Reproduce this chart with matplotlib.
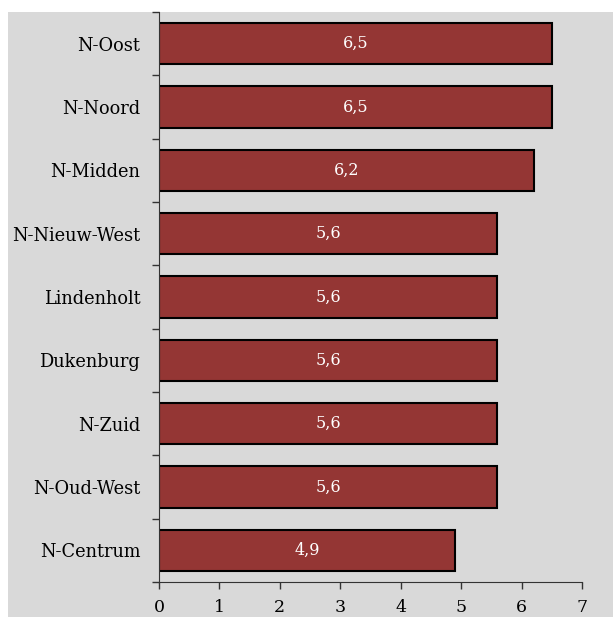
import matplotlib.pyplot as plt
from matplotlib.patches import Rectangle

wijken = ['N-Oost', 'N-Noord', 'N-Midden', 'N-Nieuw-West', 'Lindenholt',
          'Dukenburg', 'N-Zuid', 'N-Oud-West', 'N-Centrum']
cijfers = [6.5, 6.5, 6.2, 5.6, 5.6, 5.6, 5.6, 5.6, 4.9]
xticks = [0, 1, 2, 3, 4, 5, 6, 7]

bg = '#d9d9d9'
bar_color = '#943634'

plt.rcParams['font.family'] = ['DejaVu Serif']

fig = plt.figure(figsize=(6.13, 6.17), dpi=100)
fig.patch.set_facecolor('white')

# grey plot area, starts a bit in from top and left
fig.add_artist(Rectangle((8 / 613, 0), 1, 1 - 12 / 617, transform=fig.transFigure,
                         facecolor=bg, edgecolor='none', zorder=-1))

ax = fig.add_axes([159 / 613, 1 - 582 / 617, (582 - 159) / 613, (582 - 12) / 617])
ax.set_facecolor(bg)

pos = list(range(len(wijken)))[::-1]
bars = ax.barh(pos, cijfers, height=0.65, color=bar_color, edgecolor='black', linewidth=1.5)

for b, v in zip(bars, cijfers):
    ax.text(v / 2, b.get_y() + b.get_height() / 2, ('%.1f' % v).replace('.', ','),
            color='white', ha='center', va='center', fontsize=11.5)

ax.set_xlim(0, 7)
ax.set_ylim(-0.5, len(wijken) - 0.5)
ax.set_xticks(xticks)
ax.set_xticklabels([str(t) for t in xticks], fontsize=12.5)

# ticks on the category borders, labels in the middle
ax.set_yticks([p - 0.5 for p in range(len(wijken) + 1)])
ax.set_yticklabels([])
ax.set_yticks(pos, minor=True)
ax.set_yticklabels(wijken, minor=True, fontsize=12.8)
ax.tick_params(axis='y', which='minor', length=0, pad=13.5)
ax.tick_params(axis='y', which='major', length=5, width=1, color='#333333')
ax.tick_params(axis='x', length=5, width=1, color='#333333', pad=7)

for s in ['top', 'right']:
    ax.spines[s].set_visible(False)
for s in ['left', 'bottom']:
    ax.spines[s].set_color('#333333')

fig.savefig('out.png', dpi=100, facecolor=fig.get_facecolor())
